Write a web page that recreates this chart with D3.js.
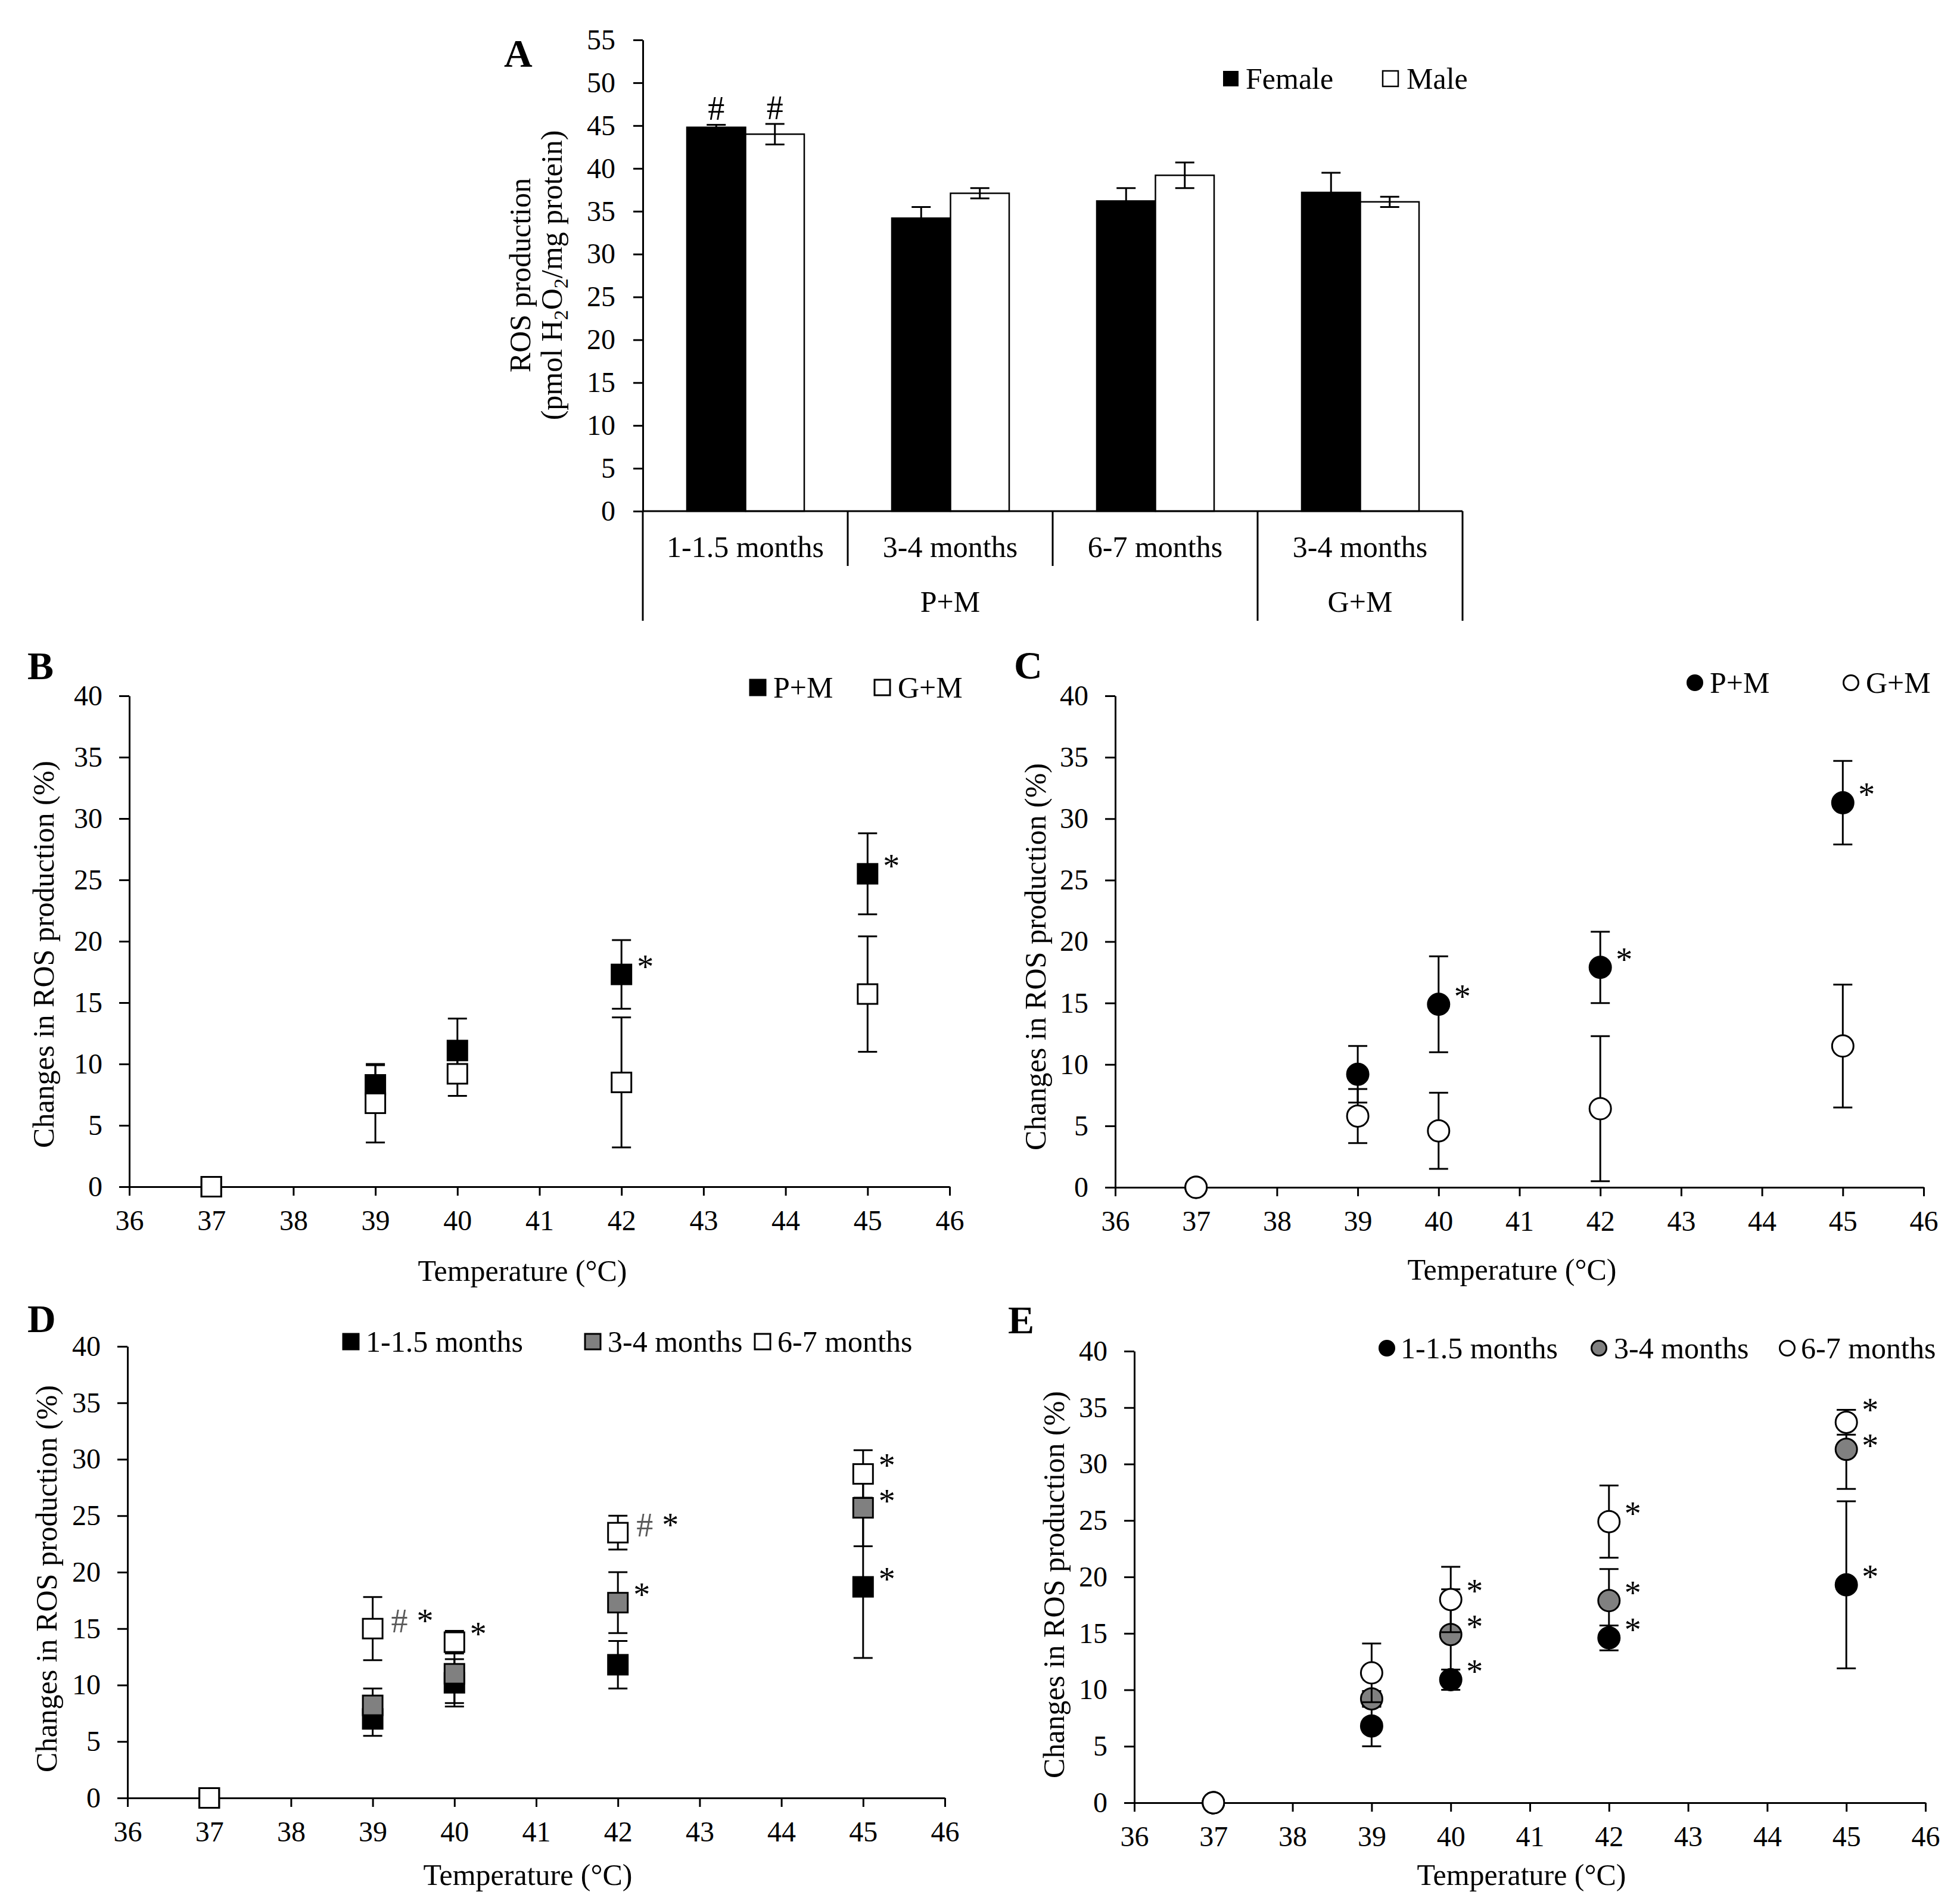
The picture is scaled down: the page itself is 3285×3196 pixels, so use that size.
<!DOCTYPE html>
<html><head><meta charset="utf-8">
<script src="https://cdn.jsdelivr.net/npm/d3@7"></script>
<style>
body{margin:0;background:#fff}
svg{display:block}
text{font-family:"Liberation Serif","Times New Roman",serif;fill:#000}
</style>
</head><body>
<svg id="chart" width="3285" height="3196"></svg>
<script>
// ---------------- DATA ----------------
// Panel A
const aCategories = ["1-1.5 months", "3-4 months", "6-7 months", "3-4 months"];
const aGroups = ["P+M", "P+M", "P+M", "G+M"];
const aFemale = [44.8, 34.2, 36.2, 37.2];
const aFemaleErr = [0.3, 1.3, 1.5, 2.3];
const aMale = [44.0, 37.1, 39.2, 36.1];
const aMaleErr = [1.2, 0.6, 1.5, 0.6];
const aFemaleMark = ["#", "", "", ""];
const aMaleMark = ["#", "", "", ""];
const aYTicks = [0, 5, 10, 15, 20, 25, 30, 35, 40, 45, 50, 55];

// Panels B-E
const temps = [37, 39, 40, 42, 45];
const xTicks = [36, 37, 38, 39, 40, 41, 42, 43, 44, 45, 46];
const yTicks = [0, 5, 10, 15, 20, 25, 30, 35, 40];

const bPM = [0, 8.3, 11.1, 17.3, 25.5];
const bPMErr = [0, 1.6, 2.6, 2.8, 3.3];
const bPMMark = ["", "", "", "*", "*"];
const bGM = [0, 6.8, 9.2, 8.5, 15.7];
const bGMErr = [0, 3.2, 1.8, 5.3, 4.7];
const bGMMark = ["", "", "", "", ""];

const cPM = [0, 9.2, 14.9, 17.9, 31.3];
const cPMErr = [0, 2.3, 3.9, 2.9, 3.4];
const cPMMark = ["", "", "*", "*", "*"];
const cGM = [0, 5.8, 4.6, 6.4, 11.5];
const cGMErr = [0, 2.2, 3.1, 5.9, 5.0];
const cGMMark = ["", "", "", "", ""];

const dYoung = [0, 7.0, 10.2, 11.8, 18.7];
const dYoungErr = [0, 1.5, 2.1, 2.1, 6.3];
const dYoungMark = ["", "", "", "", "*"];
const dMid = [0, 8.2, 11.0, 17.3, 25.7];
const dMidErr = [0, 1.5, 2.6, 2.7, 3.4];
const dMidMark = ["", "", "", "*", "*"];
const dOld = [0, 15.0, 13.8, 23.5, 28.7];
const dOldErr = [0, 2.8, 1.0, 1.5, 2.1];
const dOldMark = ["", "#*", "*", "#*", "*"];

const eYoung = [0, 6.8, 10.9, 14.6, 19.3];
const eYoungErr = [0, 1.8, 0.9, 1.1, 7.4];
const eYoungMark = ["", "", "*", "*", "*"];
const eMid = [0, 9.2, 14.9, 17.9, 31.3];
const eMidErr = [0, 0.7, 4.0, 2.8, 3.5];
const eMidMark = ["", "", "*", "*", "*"];
const eOld = [0, 11.5, 18.0, 24.9, 33.7];
const eOldErr = [0, 2.6, 2.9, 3.2, 1.1];
const eOldMark = ["", "", "*", "*", "*"];

// ---------------- DRAWING ----------------
const svg = d3.select("#chart");
svg.append("rect").attr("width", 3285).attr("height", 3196).attr("fill", "#fff");

const TICK_FONT = 48, LABEL_FONT = 50, LETTER_FONT = 66, MARK_FONT = 56;
const LW = 3;
const MARK_SEP = 60;

function styleAxis(sel) {
  sel.select(".domain").attr("stroke", "#000").attr("stroke-width", LW);
  sel.selectAll(".tick line").attr("stroke", "#000").attr("stroke-width", LW);
  sel.selectAll(".tick text").attr("font-size", TICK_FONT)
    .attr("font-family", '"Liberation Serif","Times New Roman",serif').attr("fill", "#000");
}

function panelLetter(t, x, y) {
  svg.append("text").attr("x", x).attr("y", y).attr("font-size", LETTER_FONT)
    .attr("font-weight", "bold").text(t);
}

// cy here is the vertical centre of the annotation glyphs
function drawMark(g, txt, cx, cy) {
  if (!txt) return;
  const base = cy + 26;
  if (txt === "*") {
    g.append("text").attr("x", cx + 40).attr("y", base).attr("text-anchor", "middle")
      .attr("font-size", MARK_FONT).text("*");
  } else if (txt === "#*") {
    g.append("text").attr("x", cx + 45).attr("y", base).attr("text-anchor", "middle")
      .attr("font-size", MARK_FONT).style("fill", "#5a5a5a").text("#");
    g.append("text").attr("x", cx + 88).attr("y", base).attr("text-anchor", "middle")
      .attr("font-size", MARK_FONT).text("*");
  }
}

function marker(g, shape, fill, cx, cy, size) {
  if (shape === "square") {
    g.append("rect").attr("x", cx - size / 2).attr("y", cy - size / 2)
      .attr("width", size).attr("height", size)
      .attr("fill", fill).attr("stroke", "#000").attr("stroke-width", LW);
  } else {
    g.append("circle").attr("cx", cx).attr("cy", cy).attr("r", size / 2)
      .attr("fill", fill).attr("stroke", "#000").attr("stroke-width", LW);
  }
}

function errBar(g, cx, yLo, yHi) {
  g.append("line").attr("x1", cx).attr("x2", cx).attr("y1", yLo).attr("y2", yHi)
    .attr("stroke", "#000").attr("stroke-width", LW);
  [yLo, yHi].forEach(yy => g.append("line").attr("x1", cx - 16).attr("x2", cx + 16)
    .attr("y1", yy).attr("y2", yy).attr("stroke", "#000").attr("stroke-width", LW));
}

function scatterPanel(o) {
  const g = svg.append("g");
  const x = d3.scaleLinear().domain([36, 46]).range([o.x0, o.x1]);
  const y = d3.scaleLinear().domain([0, 40]).range([o.y0, o.y1]);

  g.append("g").attr("transform", `translate(0,${o.y0})`)
    .call(d3.axisBottom(x).tickValues(xTicks).tickSize(15).tickSizeOuter(0).tickPadding(24).tickFormat(d3.format("d")))
    .call(styleAxis);
  g.append("g").attr("transform", `translate(${o.x0},0)`)
    .call(d3.axisLeft(y).tickValues(yTicks).tickSize(17).tickSizeOuter(0).tickPadding(28).tickFormat(d3.format("d")))
    .call(styleAxis);

  o.series.forEach(s => {
    temps.forEach((t, i) => {
      if (s.err[i] > 0) errBar(g, x(t), y(s.vals[i] - s.err[i]), y(s.vals[i] + s.err[i]));
    });
    temps.forEach((t, i) => {
      marker(g, s.shape, s.fill, x(t), y(s.vals[i]), s.shape === "square" ? 33 : 36);
    });
  });

  // annotations, spread apart vertically when they share a temperature
  temps.forEach((t, i) => {
    const items = o.series.filter(s => s.mark[i]).map(s => ({ txt: s.mark[i], cy: y(s.vals[i]) - 20 }));
    items.sort((a, b) => a.cy - b.cy);
    for (let k = 0; k + 1 < items.length; k++) {
      const diff = items[k + 1].cy - items[k].cy;
      if (diff < MARK_SEP) {
        const d = (MARK_SEP - diff) / 2;
        items[k].cy -= d; items[k + 1].cy += d;
      }
    }
    items.forEach(it => drawMark(g, it.txt, x(t), it.cy));
  });

  o.series.forEach((s, i) => {
    const L = o.legend[i];
    marker(g, s.shape, s.fill, L.cx, o.legendY, s.shape === "square" ? 26 : 25);
    g.append("text").attr("x", L.tx).attr("y", o.legendY + 17).attr("font-size", LABEL_FONT).text(s.name);
  });

  g.append("text").attr("x", o.xtX).attr("y", o.xtY).attr("text-anchor", "middle")
    .attr("font-size", LABEL_FONT).text("Temperature (°C)");
  g.append("text").attr("transform", `translate(${o.ytX},${o.ytY}) rotate(-90)`)
    .attr("text-anchor", "middle").attr("dy", "0.35em").attr("font-size", LABEL_FONT)
    .text("Changes in ROS production (%)");

  panelLetter(o.letter, o.lx, o.ly);
}

// ---------- Panel A ----------
(function () {
  const g = svg.append("g");
  const X0 = 1079, X1 = 2455, Y0 = 858, Y1 = 67;
  const x0 = d3.scaleBand().domain(d3.range(aCategories.length)).range([X0, X1]).paddingInner(0).paddingOuter(0);
  const x1 = d3.scaleBand().domain(["Female", "Male"]).range([74, 271]);
  const y = d3.scaleLinear().domain([0, 55]).range([Y0, Y1]);

  const series = [
    { key: "Female", vals: aFemale, err: aFemaleErr, mark: aFemaleMark, fill: "#000" },
    { key: "Male", vals: aMale, err: aMaleErr, mark: aMaleMark, fill: "#fff" }
  ];
  series.forEach(s => {
    s.vals.forEach((v, i) => {
      g.append("rect").attr("x", x0(i) + x1(s.key)).attr("y", y(v))
        .attr("width", x1.bandwidth()).attr("height", y(0) - y(v))
        .attr("fill", s.fill).attr("stroke", "#000").attr("stroke-width", 2.5);
    });
  });
  series.forEach(s => {
    s.vals.forEach((v, i) => {
      const cx = x0(i) + x1(s.key) + x1.bandwidth() / 2;
      errBar(g, cx, y(v - s.err[i]), y(v + s.err[i]));
      if (s.mark[i]) g.append("text").attr("x", cx).attr("y", y(v + s.err[i]) - 8)
        .attr("text-anchor", "middle").attr("font-size", MARK_FONT).text(s.mark[i]);
    });
  });

  g.append("g").attr("transform", `translate(${X0},0)`)
    .call(d3.axisLeft(y).tickValues(aYTicks).tickSize(16).tickSizeOuter(0).tickPadding(30).tickFormat(d3.format("d")))
    .call(styleAxis);
  g.append("line").attr("x1", X0).attr("x2", X1).attr("y1", Y0).attr("y2", Y0)
    .attr("stroke", "#000").attr("stroke-width", LW);
  const n = aCategories.length;
  for (let k = 0; k <= n; k++) {
    const xx = k < n ? x0(k) : X1;
    const long = (k === 0 || k === n || aGroups[k] !== aGroups[k - 1]);
    g.append("line").attr("x1", xx).attr("x2", xx).attr("y1", Y0).attr("y2", long ? 1042 : 950)
      .attr("stroke", "#000").attr("stroke-width", LW);
  }
  aCategories.forEach((c, i) => {
    g.append("text").attr("x", x0(i) + x0.bandwidth() / 2).attr("y", 935)
      .attr("text-anchor", "middle").attr("font-size", LABEL_FONT).text(c);
  });
  const groups = [];
  aGroups.forEach((gr, i) => {
    if (!groups.length || groups[groups.length - 1].name !== gr) groups.push({ name: gr, start: i, end: i });
    else groups[groups.length - 1].end = i;
  });
  groups.forEach(gr => {
    const xs = x0(gr.start), xe = x0(gr.end) + x0.bandwidth();
    g.append("text").attr("x", (xs + xe) / 2).attr("y", 1027)
      .attr("text-anchor", "middle").attr("font-size", LABEL_FONT).text(gr.name);
  });

  g.append("rect").attr("x", 2066 - 13).attr("y", 132 - 13).attr("width", 26).attr("height", 26).attr("fill", "#000");
  g.append("text").attr("x", 2091).attr("y", 149).attr("font-size", LABEL_FONT).text("Female");
  g.append("rect").attr("x", 2334 - 13).attr("y", 132 - 13).attr("width", 26).attr("height", 26)
    .attr("fill", "#fff").attr("stroke", "#000").attr("stroke-width", 2.5);
  g.append("text").attr("x", 2361).attr("y", 149).attr("font-size", LABEL_FONT).text("Male");

  g.append("text").attr("transform", `translate(872,462) rotate(-90)`)
    .attr("text-anchor", "middle").attr("dy", "0.35em").attr("font-size", LABEL_FONT).text("ROS production");
  const t2 = g.append("text").attr("transform", `translate(925,462) rotate(-90)`)
    .attr("text-anchor", "middle").attr("dy", "0.35em").attr("font-size", LABEL_FONT);
  t2.append("tspan").text("(pmol H");
  t2.append("tspan").attr("font-size", 34).attr("dy", 10).text("2");
  t2.append("tspan").attr("dy", -10).text("O");
  t2.append("tspan").attr("font-size", 34).attr("dy", 10).text("2");
  t2.append("tspan").attr("dy", -10).text("/mg protein)");

  panelLetter("A", 846, 112);
})();

// ---------- Panel B ----------
scatterPanel({
  x0: 217, x1: 1594, y0: 1992, y1: 1168,
  series: [
    { name: "P+M", vals: bPM, err: bPMErr, mark: bPMMark, shape: "square", fill: "#000" },
    { name: "G+M", vals: bGM, err: bGMErr, mark: bGMMark, shape: "square", fill: "#fff" }
  ],
  legendY: 1154, legend: [{ cx: 1272, tx: 1298 }, { cx: 1481, tx: 1507 }],
  xtX: 877, xtY: 2150, ytX: 72, ytY: 1602,
  letter: "B", lx: 46, ly: 1140
});

// ---------- Panel C ----------
scatterPanel({
  x0: 1872, x1: 3229, y0: 1993, y1: 1168,
  series: [
    { name: "P+M", vals: cPM, err: cPMErr, mark: cPMMark, shape: "circle", fill: "#000" },
    { name: "G+M", vals: cGM, err: cGMErr, mark: cGMMark, shape: "circle", fill: "#fff" }
  ],
  legendY: 1146, legend: [{ cx: 2845, tx: 2870 }, { cx: 3107, tx: 3132 }],
  xtX: 2538, xtY: 2148, ytX: 1737, ytY: 1606,
  letter: "C", lx: 1702, ly: 1139
});

// ---------- Panel D ----------
scatterPanel({
  x0: 214, x1: 1586, y0: 3018, y1: 2260,
  series: [
    { name: "1-1.5 months", vals: dYoung, err: dYoungErr, mark: dYoungMark, shape: "square", fill: "#000" },
    { name: "3-4 months", vals: dMid, err: dMidErr, mark: dMidMark, shape: "square", fill: "#808080" },
    { name: "6-7 months", vals: dOld, err: dOldErr, mark: dOldMark, shape: "square", fill: "#fff" }
  ],
  legendY: 2252, legend: [{ cx: 589, tx: 614 }, { cx: 995, tx: 1020 }, { cx: 1280, tx: 1305 }],
  xtX: 886, xtY: 3164, ytX: 77, ytY: 2650,
  letter: "D", lx: 46, ly: 2236
});

// ---------- Panel E ----------
scatterPanel({
  x0: 1904, x1: 3232, y0: 3026, y1: 2268,
  series: [
    { name: "1-1.5 months", vals: eYoung, err: eYoungErr, mark: eYoungMark, shape: "circle", fill: "#000" },
    { name: "3-4 months", vals: eMid, err: eMidErr, mark: eMidMark, shape: "circle", fill: "#808080" },
    { name: "6-7 months", vals: eOld, err: eOldErr, mark: eOldMark, shape: "circle", fill: "#fff" }
  ],
  legendY: 2263, legend: [{ cx: 2328, tx: 2351 }, { cx: 2684, tx: 2709 }, { cx: 3000, tx: 3023 }],
  xtX: 2554, xtY: 3164, ytX: 1768, ytY: 2660,
  letter: "E", lx: 1692, ly: 2238
});
</script>
</body></html>
